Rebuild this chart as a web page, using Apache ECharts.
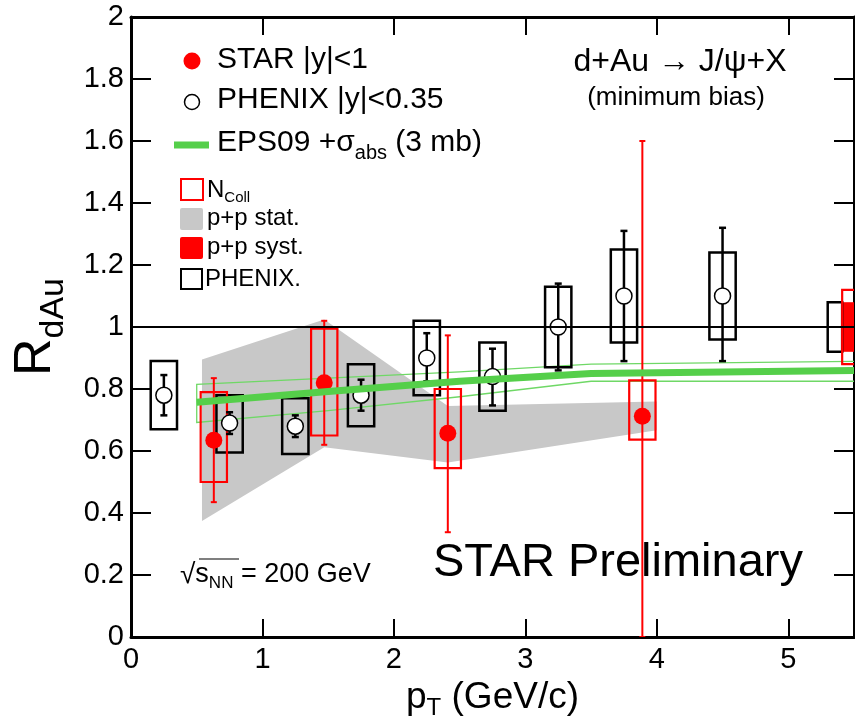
<!DOCTYPE html>
<html>
<head>
<meta charset="utf-8">
<title>RdAu J/psi</title>
<script src="https://cdn.jsdelivr.net/npm/echarts@6/dist/echarts.min.js"></script>
<style>
    html, body { margin: 0; padding: 0; background: #fff; }
    #main { width: 855px; height: 728px; }
</style>
</head>
<body>
<div id="main"></div>
<script>
// STAR |y|<1
var starX = [0.63, 1.47, 2.41, 3.89];
var starY = [0.635, 0.82, 0.657, 0.712];
var starStatLo = [0.435, 0.62, 0.338, 0.0];
var starStatHi = [0.835, 1.02, 0.973, 1.60];
var starNcollLo = [0.50, 0.65, 0.545, 0.637];
var starNcollHi = [0.79, 0.995, 0.80, 0.828];

// PHENIX |y|<0.35
var phxX = [0.25, 0.75, 1.25, 1.75, 2.25, 2.75, 3.25, 3.75, 4.5];
var phxY = [0.78, 0.69, 0.68, 0.78, 0.90, 0.84, 1.00, 1.10, 1.10];
var phxStatLo = [0.715, 0.655, 0.645, 0.73, 0.825, 0.747, 0.86, 0.89, 0.89];
var phxStatHi = [0.845, 0.725, 0.715, 0.83, 0.98, 0.93, 1.14, 1.31, 1.32];
var phxSysLo = [0.67, 0.595, 0.59, 0.68, 0.78, 0.73, 0.87, 0.95, 0.96];
var phxSysHi = [0.89, 0.78, 0.77, 0.88, 1.02, 0.95, 1.13, 1.25, 1.24];

// p+p stat. band
var ppStatX = [0.54, 1.47, 2.41, 4.0];
var ppStatHi = [0.895, 1.024, 0.745, 0.76];
var ppStatLo = [0.374, 0.612, 0.563, 0.667];

// EPS09 + sigma_abs (3 mb)
var epsX = [0.5, 1.5, 2.5, 3.5, 5.5];
var epsMid = [0.757, 0.792, 0.825, 0.85, 0.86];
var epsHi = [0.815, 0.835, 0.855, 0.88, 0.889];
var epsLo = [0.692, 0.73, 0.775, 0.825, 0.825];

// global uncertainties around 1: PHENIX, p+p syst., Ncoll
var globalX = [5.355, 5.465, 5.465];
var globalErr = [0.08, 0.08, 0.12];

// tick labels
var xTickValues = [0, 1, 2, 3, 4, 5];
var yTickValues = [0, 0.2, 0.4, 0.6, 0.8, 1, 1.2, 1.4, 1.6, 1.8, 2];

var FONT = 'Liberation Sans, Arial, Helvetica, sans-serif';
var RED = '#ff0000';
var GREEN = '#55cf4a';

var rdauChart = {
    chart: null,
    /**
     * 初始化
     */
    init: function (id) {
        this.chart = echarts.init(document.getElementById(id));
        this.chart.setOption(this.getOption());
    },
    // 盒子 (系统误差)
    boxRender: function (halfW, color, lineW, filled) {
        return function (params, api) {
            var x = api.value(0);
            var p1 = api.coord([x - halfW, api.value(2)]);
            var p2 = api.coord([x + halfW, api.value(1)]);
            return {
                type: 'rect',
                shape: { x: p1[0], y: p1[1], width: p2[0] - p1[0], height: p2[1] - p1[1] },
                style: filled ? { fill: color } : { fill: null, stroke: color, lineWidth: lineW }
            };
        };
    },
    // 误差棒
    errRender: function (color, lineW, cap) {
        return function (params, api) {
            var x = api.value(0);
            var top = api.coord([x, api.value(2)]);
            var bot = api.coord([x, api.value(1)]);
            var st = { stroke: color, lineWidth: lineW };
            return {
                type: 'group',
                children: [
                    { type: 'line', shape: { x1: top[0], y1: top[1], x2: bot[0], y2: bot[1] }, style: st },
                    { type: 'line', shape: { x1: top[0] - cap, y1: top[1], x2: top[0] + cap, y2: top[1] }, style: st },
                    { type: 'line', shape: { x1: bot[0] - cap, y1: bot[1], x2: bot[0] + cap, y2: bot[1] }, style: st }
                ]
            };
        };
    },
    zip: function () {
        var cols = arguments, out = [];
        for (var i = 0; i < cols[0].length; i++) {
            var row = [];
            for (var j = 0; j < cols.length; j++) row.push(cols[j][i]);
            out.push(row);
        }
        return out;
    },
    getOption: function () {
        var self = this;
        var axisLineStyle = { color: '#000', width: 3 };
        var tickStyle = { color: '#000', width: 2 };
        return {
            animation: false,
            backgroundColor: '#fff',
            grid: { left: 131, right: 1, top: 17, bottom: 91, outerBoundsMode: 'none' },
            xAxis: [{
                type: 'value', min: 0, max: 5.5, position: 'bottom',
                axisLine: { onZero: false, lineStyle: axisLineStyle },
                axisTick: { inside: true, length: 18, lineStyle: tickStyle, customValues: xTickValues },
                axisLabel: { customValues: xTickValues, fontSize: 29, color: '#000', fontFamily: FONT, margin: 8 },
                splitLine: { show: false },
                name: '{a|p}{b|T}{a| (GeV/c)}',
                nameLocation: 'middle', nameGap: 36,
                nameTextStyle: {
                    rich: {
                        a: { fontSize: 37, fontFamily: FONT, color: '#000' },
                        b: { fontSize: 24, fontFamily: FONT, color: '#000', padding: [22, 0, 0, 0] }
                    }
                }
            }, {
                type: 'value', min: 0, max: 5.5, position: 'top',
                axisLine: { onZero: false, lineStyle: axisLineStyle },
                axisTick: { inside: true, length: 18, lineStyle: tickStyle, customValues: xTickValues },
                axisLabel: { show: false },
                splitLine: { show: false }
            }],
            yAxis: [{
                type: 'value', min: 0, max: 2, position: 'left',
                axisLine: { onZero: false, lineStyle: axisLineStyle },
                axisTick: { inside: true, length: 20, lineStyle: tickStyle, customValues: yTickValues },
                axisLabel: { customValues: yTickValues, fontSize: 29, color: '#000', fontFamily: FONT, margin: 7 },
                splitLine: { show: false },
                name: '{a|R}{b|dAu}',
                nameLocation: 'middle', nameGap: 60,
                nameTextStyle: {
                    rich: {
                        a: { fontSize: 52, fontFamily: FONT, color: '#000' },
                        b: { fontSize: 34, fontFamily: FONT, color: '#000', padding: [36, 0, 0, 0] }
                    }
                }
            }, {
                type: 'value', min: 0, max: 2, position: 'right',
                axisLine: { onZero: false, lineStyle: axisLineStyle },
                axisTick: { inside: true, length: 20, lineStyle: tickStyle, customValues: yTickValues },
                axisLabel: { show: false },
                splitLine: { show: false }
            }],
            series: [{
                // p+p stat. 灰带
                type: 'custom', name: 'p+p stat.', clip: true,
                data: [[ppStatX[0], ppStatHi[0]]],
                renderItem: function (params, api) {
                    var pts = [], i;
                    for (i = 0; i < ppStatX.length; i++) pts.push(api.coord([ppStatX[i], ppStatHi[i]]));
                    for (i = ppStatX.length - 1; i >= 0; i--) pts.push(api.coord([ppStatX[i], ppStatLo[i]]));
                    return { type: 'polygon', shape: { points: pts }, style: { fill: '#c8c8c8' } };
                }
            }, {
                // EPS09 误差带轮廓
                type: 'custom', name: 'EPS09 band', clip: true,
                data: [[epsX[0], epsMid[0]]],
                renderItem: function (params, api) {
                    var pts = [], i;
                    for (i = epsX.length - 1; i >= 0; i--) pts.push(api.coord([epsX[i], epsLo[i]]));
                    for (i = 0; i < epsX.length; i++) pts.push(api.coord([epsX[i], epsHi[i]]));
                    return { type: 'polyline', shape: { points: pts }, style: { fill: null, stroke: '#6fd866', lineWidth: 1.3 } };
                }
            }, {
                type: 'line', name: 'EPS09', symbol: 'none', silent: true,
                data: self.zip(epsX, epsMid),
                lineStyle: { color: GREEN, width: 7 }
            }, {
                type: 'line', name: 'unity', symbol: 'none', silent: true,
                data: [[0, 1], [5.5, 1]],
                lineStyle: { color: '#000', width: 2 }
            }, {
                // 右侧全局误差
                type: 'custom', name: 'p+p syst.', clip: true,
                data: [[globalX[1], 1 - globalErr[1], 1 + globalErr[1]]],
                renderItem: self.boxRender(0.055, RED, 0, true)
            }, {
                type: 'custom', name: 'PHENIX global', clip: true,
                data: [[globalX[0], 1 - globalErr[0], 1 + globalErr[0]]],
                renderItem: self.boxRender(0.055, '#000', 2.5, false)
            }, {
                type: 'custom', name: 'Ncoll global', clip: true,
                data: [[globalX[2], 1 - globalErr[2], 1 + globalErr[2]]],
                renderItem: self.boxRender(0.055, RED, 2.2, false)
            }, {
                type: 'custom', name: 'PHENIX syst', clip: true,
                data: self.zip(phxX, phxSysLo, phxSysHi),
                renderItem: self.boxRender(0.1, '#000', 2.5, false)
            }, {
                type: 'custom', name: 'STAR Ncoll', clip: true,
                data: self.zip(starX, starNcollLo, starNcollHi),
                renderItem: self.boxRender(0.1, RED, 2.2, false)
            }, {
                type: 'custom', name: 'PHENIX stat', clip: true,
                data: self.zip(phxX, phxStatLo, phxStatHi),
                renderItem: self.errRender('#000', 2.5, 3.5)
            }, {
                type: 'custom', name: 'STAR stat', clip: true,
                data: self.zip(starX, starStatLo, starStatHi),
                renderItem: self.errRender(RED, 2, 3)
            }, {
                type: 'scatter', name: 'PHENIX |y|<0.35',
                data: self.zip(phxX, phxY),
                symbol: 'circle', symbolSize: 16,
                itemStyle: { color: '#fff', borderColor: '#000', borderWidth: 1.5, opacity: 1 }
            }, {
                type: 'scatter', name: 'STAR |y|<1',
                data: self.zip(starX, starY),
                symbol: 'circle', symbolSize: 17,
                itemStyle: { color: RED, opacity: 1 }
            }],
            graphic: self.getGraphic()
        };
    },
    // 图例和文字
    getGraphic: function () {
        var txt = function (x, y, text, size, rich, align) {
            return {
                type: 'text', x: x, y: y, z: 100,
                style: { text: text, fontSize: size, fontFamily: FONT, fill: '#000',
                    align: align || 'left', verticalAlign: 'middle', rich: rich }
            };
        };
        var sub = function (size, pad) {
            return { fontSize: size, fontFamily: FONT, fill: '#000', padding: [pad, 0, 0, 0] };
        };
        return [
            { type: 'circle', z: 100, shape: { cx: 192, cy: 61, r: 8.5 }, style: { fill: RED } },
            txt(217, 60, 'STAR |y|<1', 30),
            { type: 'circle', z: 100, shape: { cx: 192, cy: 102, r: 7.5 }, style: { fill: '#fff', stroke: '#000', lineWidth: 1.5 } },
            txt(217, 100, 'PHENIX |y|<0.35', 30),
            { type: 'line', z: 100, shape: { x1: 174, y1: 145, x2: 209, y2: 145 }, style: { stroke: GREEN, lineWidth: 7 } },
            txt(217, 143, '{a|EPS09 +σ}{s|abs}{a| (3 mb)}', 30, {
                a: { fontSize: 30, fontFamily: FONT, fill: '#000' },
                s: sub(20, 20)
            }),
            { type: 'rect', z: 100, shape: { x: 181, y: 179, width: 22, height: 21 }, style: { fill: null, stroke: RED, lineWidth: 2 } },
            txt(207, 190, '{a|N}{s|Coll}', 24, {
                a: { fontSize: 24, fontFamily: FONT, fill: '#000' },
                s: sub(15, 16)
            }),
            { type: 'rect', z: 100, shape: { x: 180, y: 208, width: 23, height: 22, r: 2 }, style: { fill: '#c8c8c8' } },
            txt(207, 218, 'p+p stat.', 24),
            { type: 'rect', z: 100, shape: { x: 180, y: 237, width: 23, height: 22, r: 2 }, style: { fill: RED } },
            txt(207, 247, 'p+p syst.', 24),
            { type: 'rect', z: 100, shape: { x: 181, y: 269, width: 21, height: 20 }, style: { fill: null, stroke: '#000', lineWidth: 2 } },
            txt(205, 279, 'PHENIX.', 24),
            txt(680, 62, 'd+Au → J/ψ+X', 32, null, 'center'),
            txt(676, 98, '(minimum bias)', 26, null, 'center'),
            txt(433, 563, 'STAR Preliminary', 47),
            txt(180, 575, '{r|√}{a|s}{s|NN}{a| = 200 GeV}', 27, {
                r: { fontSize: 28, fontFamily: FONT, fill: '#000' },
                a: { fontSize: 27, fontFamily: FONT, fill: '#000' },
                s: sub(17, 16)
            }),
            { type: 'line', z: 100, shape: { x1: 199, y1: 559, x2: 239, y2: 559 }, style: { stroke: '#000', lineWidth: 1.2 } }
        ];
    }
};

rdauChart.init('main');
</script>
</body>
</html>
